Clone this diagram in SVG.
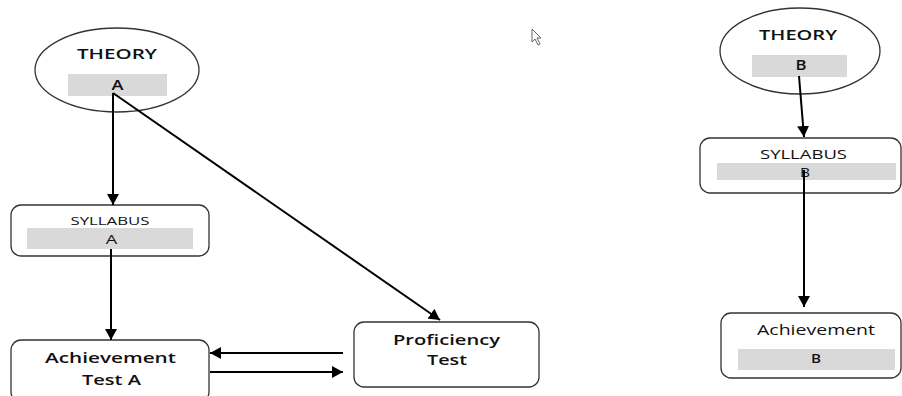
<svg xmlns="http://www.w3.org/2000/svg" width="902" height="396" viewBox="0 0 902 396">
<style>
.node{fill:#fff;stroke:#333;stroke-width:1.3}
.band{fill:#d9d9d9;stroke:none}
.t{font-family:"Open Sans","DejaVu Sans",sans-serif;fill:#111;text-anchor:middle}
.sb{font-weight:600}
.con{stroke:#000;stroke-width:2;fill:none;marker-end:url(#ah)}
</style>
<defs>
<marker id="ah" markerUnits="userSpaceOnUse" markerWidth="12" markerHeight="12" refX="11" refY="6" orient="auto">
<path d="M0,0 L11,6 L0,12 z" fill="#000"/>
</marker>
</defs>
<g id="theoryA">
<ellipse class="node" cx="117" cy="70" rx="82" ry="42"/>
<rect class="band" x="68" y="74" width="99" height="22"/>
<text class="t sb" x="117" y="59" font-size="14" textLength="80" lengthAdjust="spacingAndGlyphs">THEORY</text>
<text class="t sb" x="117.5" y="90" font-size="15" textLength="12" lengthAdjust="spacingAndGlyphs">A</text>
</g>
<g id="syllabusA">
<rect class="node" x="11" y="205" width="198" height="51" rx="10"/>
<rect class="band" x="27" y="228" width="166" height="21"/>
<text class="t" x="110" y="225" font-size="11" textLength="79" lengthAdjust="spacingAndGlyphs">SYLLABUS</text>
<text class="t" x="111.5" y="243.5" font-size="13.5" textLength="11.5" lengthAdjust="spacingAndGlyphs">A</text>
</g>
<g id="achievementA">
<rect class="node" x="11" y="340" width="198" height="62" rx="10"/>
<text class="t sb" x="110.5" y="363" font-size="15" textLength="131" lengthAdjust="spacingAndGlyphs">Achievement</text>
<text class="t sb" x="111.5" y="385" font-size="15" textLength="59" lengthAdjust="spacingAndGlyphs">Test A</text>
</g>
<g id="proficiency">
<rect class="node" x="354" y="322" width="185" height="65" rx="10"/>
<text class="t sb" x="446.5" y="345" font-size="15" textLength="107" lengthAdjust="spacingAndGlyphs">Proficiency</text>
<text class="t sb" x="447" y="365" font-size="15" textLength="40" lengthAdjust="spacingAndGlyphs">Test</text>
</g>
<g id="theoryB">
<ellipse class="node" cx="800" cy="51" rx="80" ry="43"/>
<rect class="band" x="752" y="55" width="95" height="22"/>
<text class="t sb" x="798" y="40" font-size="14" textLength="78" lengthAdjust="spacingAndGlyphs">THEORY</text>
<text class="t sb" x="801" y="70" font-size="14" textLength="11" lengthAdjust="spacingAndGlyphs">B</text>
</g>
<g id="syllabusB">
<rect class="node" x="700" y="138" width="201" height="55" rx="10"/>
<rect class="band" x="717" y="163" width="179" height="17"/>
<text class="t" x="803.5" y="159" font-size="12" textLength="87" lengthAdjust="spacingAndGlyphs">SYLLABUS</text>
<text class="t" x="805" y="177" font-size="13" textLength="10" lengthAdjust="spacingAndGlyphs">B</text>
</g>
<g id="achievementB">
<rect class="node" x="721" y="313" width="180" height="65" rx="10"/>
<rect class="band" x="738" y="349" width="157" height="21"/>
<text class="t" x="816" y="335" font-size="14" textLength="118" lengthAdjust="spacingAndGlyphs">Achievement</text>
<text class="t sb" x="816" y="363" font-size="13" textLength="10" lengthAdjust="spacingAndGlyphs">B</text>
</g>
<g id="connectors">
<line class="con" x1="113" y1="93" x2="113" y2="205"/>
<line class="con" x1="113" y1="93" x2="440" y2="320"/>
<line class="con" x1="111" y1="249" x2="111" y2="340"/>
<line class="con" x1="343" y1="353" x2="210" y2="353"/>
<line class="con" x1="210" y1="372" x2="343" y2="372"/>
<line class="con" x1="799" y1="76" x2="804" y2="137"/>
<line class="con" x1="804" y1="170" x2="804" y2="307"/>
</g>
<path d="M532,29 L532,42 L535,39 L538,45 L540,44 L537,38 L541,38 Z" fill="#fff" stroke="#666" stroke-width="1"/>
</svg>
